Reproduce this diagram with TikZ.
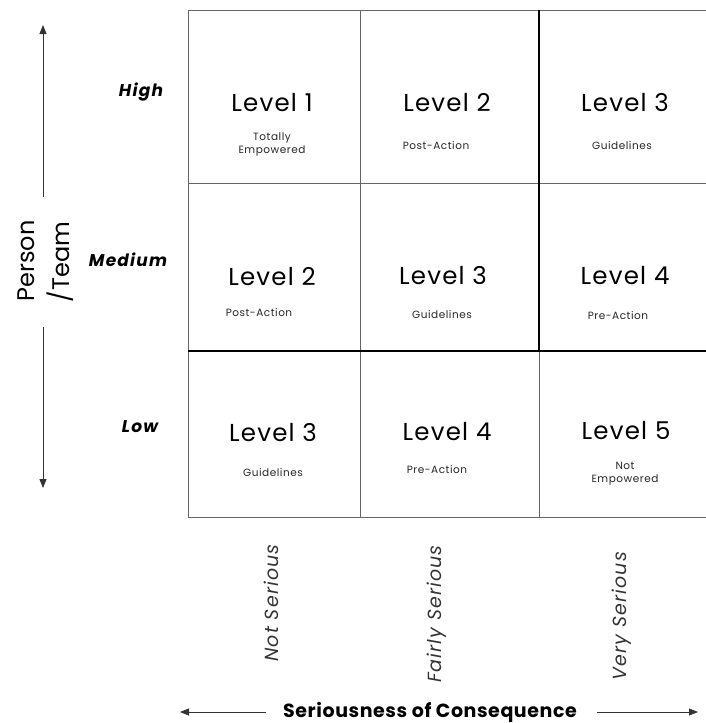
\documentclass[tikz,border=0pt]{standalone}
\usepackage{fontspec}
\setmainfont{Poppins}
\newfontfamily\lvlfont{Poppins}[LetterSpace=5]
\newfontfamily\subfont{Poppins}[LetterSpace=5]
\newfontfamily\rowfont{Poppins}[LetterSpace=7]
\newfontfamily\colfont{Poppins}[LetterSpace=6]
\newfontfamily\axfont{Poppins}[LetterSpace=3]
\usetikzlibrary{arrows.meta}
\begin{document}
\begin{tikzpicture}[x=1pt,y=-1pt,
  thinline/.style={draw=black!60,line width=0.9pt},
  thickline/.style={draw=black,line width=1.8pt},
  lvl/.style={font=\lvlfont\fontsize{24.5}{26}\selectfont, inner sep=0, text=black},
  sub/.style={font=\subfont\fontsize{10.5}{13}\selectfont, inner sep=0, align=center, text=black!85},
  rowlab/.style={font=\rowfont\fontsize{17}{19}\selectfont\bfseries\itshape, inner sep=0},
  collab/.style={font=\colfont\fontsize{19}{21}\selectfont\itshape, rotate=90, inner sep=0, text=black!80},
  axislab/.style={font=\fontsize{24}{26}\selectfont, rotate=90, inner sep=0},
  axisarrow/.style={draw=black!80, line width=0.8pt, -{Triangle[length=9pt,width=7pt]}}
]
\useasboundingbox (0,0) rectangle (706,723);
% grid coordinates
\coordinate (tl) at (188,10);
\coordinate (tr) at (706,10);
\coordinate (bl) at (188,517);
\coordinate (br) at (706,517);
\coordinate (h1l) at (188,183);
\coordinate (h1r) at (706,183);
\coordinate (h2l) at (188,351);
\coordinate (h2r) at (706,351);
\coordinate (v1t) at (360,10);
\coordinate (v1b) at (360,517);
\coordinate (v2t) at (539,10);
\coordinate (v2m) at (539,351);
\coordinate (v2b) at (539,517);
% grid lines
\draw[thinline] (tl) -- (tr);
\draw[thinline] (tl) -- (bl);
\draw[thinline] (bl) -- (br);
\draw[thinline] (h1l) -- (h1r);
\draw[thinline] (v1t) -- (v1b);
\draw[thinline] (v2m) -- (v2b);
\draw[thickline] (v2t) -- (v2m);
\draw[thickline] (h2l) -- (h2r);
% row 1
\node[lvl] (l11) at (272,103) {Level 1};
\node[sub] (s11) at (272,144) {Totally\\Empowered};
\node[lvl] (l12) at (447,103) {Level 2};
\node[sub] (s12) at (436,146) {Post-Action};
\node[lvl] (l13) at (625,103) {Level 3};
\node[sub] (s13) at (622,146) {Guidelines};
% row 2
\node[lvl] (l21) at (272,277) {Level 2};
\node[sub] (s21) at (259,313) {Post-Action};
\node[lvl] (l22) at (443,276) {Level 3};
\node[sub] (s22) at (442,315) {Guidelines};
\node[lvl] (l23) at (625,276) {Level 4};
\node[sub] (s23) at (618,316) {Pre-Action};
% row 3
\node[lvl] (l31) at (273,433) {Level 3};
\node[sub] (s31) at (273,473) {Guidelines};
\node[lvl] (l32) at (447,432) {Level 4};
\node[sub] (s32) at (437,470) {Pre-Action};
\node[lvl] (l33) at (626,431) {Level 5};
\node[sub] (s33) at (625,474) {Not\\Empowered};
% row labels
\node[rowlab] (high) at (141,92) {High};
\node[rowlab] (med) at (128,260) {Medium};
\node[rowlab] (low) at (140,427) {Low};
% column labels
\node[collab] (c1) at (271,603) {Not Serious};
\node[collab] (c2) at (437,614) {Fairly Serious};
\node[collab] (c3) at (622,616) {Very Serious};
% vertical axis
\node[axislab] (person) at (26,261) {Person};
\node[axislab] (team) at (60,262) {/Team};
\coordinate (vu) at (43,197);
\coordinate (vtop) at (43,25);
\coordinate (vd) at (43,327);
\coordinate (vbot) at (43,488);
\draw[axisarrow] (vu) -- (vtop);
\draw[axisarrow] (vd) -- (vbot);
% horizontal axis
\node[font=\axfont\fontsize{19}{21}\selectfont\bfseries, inner sep=0] (sc) at (430,712) {Seriousness of Consequence};
\coordinate (hl) at (266,712);
\coordinate (hleft) at (180,712);
\coordinate (hr) at (597,712);
\coordinate (hright) at (698,712);
\draw[axisarrow] (hl) -- (hleft);
\draw[axisarrow] (hr) -- (hright);
\end{tikzpicture}
\end{document}
